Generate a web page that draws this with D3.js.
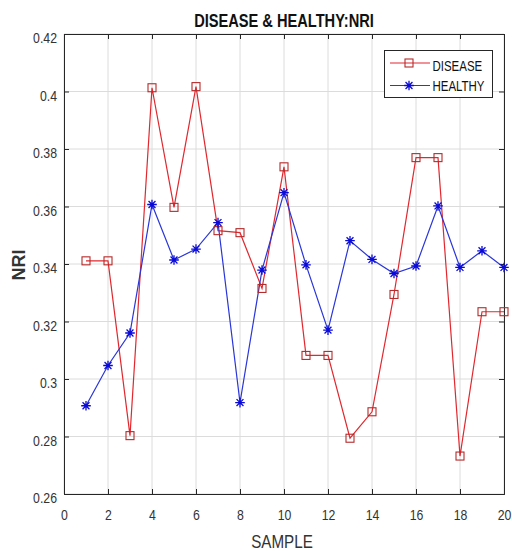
<!DOCTYPE html>
<html>
<head>
<meta charset="utf-8">
<script src="https://cdn.jsdelivr.net/npm/d3@7"></script>
<style>
  body { margin: 0; background: #fff; }
  text { font-family: "Liberation Sans", Arial, sans-serif; }
</style>
</head>
<body>
<div id="chart"></div>
<script>
var samples = d3.range(1, 21);
var disease = [0.3411, 0.3411, 0.2803, 0.4013, 0.3597, 0.4017, 0.3516, 0.3509, 0.3315, 0.3738,
               0.3082, 0.3082, 0.2794, 0.2886, 0.3294, 0.3770, 0.3770, 0.2732, 0.3234, 0.3234];
var healthy = [0.2907, 0.3047, 0.3160, 0.3607, 0.3414, 0.3452, 0.3544, 0.2918, 0.3379, 0.3648,
               0.3397, 0.3170, 0.3481, 0.3416, 0.3367, 0.3393, 0.3602, 0.3388, 0.3446, 0.3388];
var xTicks = d3.range(0, 21, 2);
var yTicks = [0.26, 0.28, 0.3, 0.32, 0.34, 0.36, 0.38, 0.4, 0.42];
var seriesNames = ["DISEASE", "HEALTHY"];

var w = 512, h = 551;
var plotL = 64, plotR = 504, plotT = 34, plotB = 494;
var axisColor = "#262626";
var redLine = "#e0282e", redMark = "#b52a2a";
var blueLine = "#2a36d8", blueMark = "#0a0ad8";
var squeeze = 0.82;  // text in the picture is narrow

var svg = d3.select("#chart")
    .append("svg")
    .attr("width", w)
    .attr("height", h);

var x = d3.scaleLinear().domain([0, 20]).range([plotL, plotR]);
var y = d3.scaleLinear().domain([0.26, 0.42]).range([plotB, plotT]);

// narrow text placed at cx, cy (baseline)
var label = function(g, str, cx, cy, size, sx, anchor) {
    return g.append("text")
        .text(str)
        .attr("transform", "translate(" + cx + "," + cy + ") scale(" + sx + ",1)")
        .attr("text-anchor", anchor || "middle")
        .attr("font-size", size + "px");
};

// grid
svg.append("g")
    .selectAll("line")
    .data(xTicks)
    .enter()
    .append("line")
    .attr("x1", function(d) { return x(d); })
    .attr("x2", function(d) { return x(d); })
    .attr("y1", plotT)
    .attr("y2", plotB)
    .attr("stroke", "#dcdcdc")
    .attr("stroke-width", 1);

svg.append("g")
    .selectAll("line")
    .data(yTicks)
    .enter()
    .append("line")
    .attr("x1", plotL)
    .attr("x2", plotR)
    .attr("y1", function(d) { return y(d); })
    .attr("y2", function(d) { return y(d); })
    .attr("stroke", "#dcdcdc")
    .attr("stroke-width", 1);

// axes (ticks inside, matlab style)
var fmt = function(d) { return String(+d.toFixed(2)); };

var xAxis = svg.append("g")
    .attr("transform", "translate(0," + plotB + ")")
    .call(d3.axisBottom(x).tickValues(xTicks).tickSize(-5).tickFormat(d3.format("d")));
svg.append("g")
    .attr("transform", "translate(0," + plotT + ")")
    .call(d3.axisTop(x).tickValues(xTicks).tickSize(-5).tickFormat(""));
var yAxis = svg.append("g")
    .attr("transform", "translate(" + plotL + ",0)")
    .call(d3.axisLeft(y).tickValues(yTicks).tickSize(-5).tickFormat(fmt));
svg.append("g")
    .attr("transform", "translate(" + plotR + ",0)")
    .call(d3.axisRight(y).tickValues(yTicks).tickSize(-5).tickFormat(""));

svg.selectAll(".domain").attr("stroke", axisColor);
svg.selectAll(".tick line").attr("stroke", axisColor);
svg.selectAll(".tick text")
    .attr("fill", "#333")
    .attr("font-size", "15px")
    .attr("font-family", "'Liberation Sans', Arial, sans-serif")
    .attr("transform", "scale(" + squeeze + ",1)")
    .attr("dy", 0);
xAxis.selectAll(".tick text").attr("y", 26);
yAxis.selectAll(".tick text").attr("x", -7 / squeeze).attr("y", 8.5);

// lines
var line = d3.line()
    .x(function(d, i) { return x(samples[i]); })
    .y(function(d) { return y(d); });

svg.append("path")
    .datum(disease)
    .attr("d", line)
    .attr("fill", "none")
    .attr("stroke", redLine)
    .attr("stroke-width", 1.2);

svg.append("path")
    .datum(healthy)
    .attr("d", line)
    .attr("fill", "none")
    .attr("stroke", blueLine)
    .attr("stroke-width", 1.2);

// markers
var sq = 8;
svg.append("g")
    .selectAll("rect")
    .data(disease)
    .enter()
    .append("rect")
    .attr("x", function(d, i) { return x(samples[i]) - sq / 2; })
    .attr("y", function(d) { return y(d) - sq / 2; })
    .attr("width", sq)
    .attr("height", sq)
    .attr("fill", "none")
    .attr("stroke", redMark)
    .attr("stroke-width", 1.1);

var star = function(g, cx, cy, r) {
    var s = r * 0.72;
    g.append("path")
        .attr("d", "M" + (cx - r) + "," + cy + "H" + (cx + r) +
                   "M" + cx + "," + (cy - r) + "V" + (cy + r) +
                   "M" + (cx - s) + "," + (cy - s) + "L" + (cx + s) + "," + (cy + s) +
                   "M" + (cx - s) + "," + (cy + s) + "L" + (cx + s) + "," + (cy - s))
        .attr("stroke", blueMark)
        .attr("stroke-width", 1.3)
        .attr("fill", "none");
};

var stars = svg.append("g");
healthy.forEach(function(d, i) { star(stars, x(samples[i]), y(d), 4.8); });

// legend
var lg = svg.append("g");
lg.append("rect")
    .attr("x", 384.5)
    .attr("y", 50.5)
    .attr("width", 108)
    .attr("height", 47)
    .attr("fill", "#fff")
    .attr("stroke", axisColor)
    .attr("stroke-width", 1);

lg.append("line").attr("x1", 390).attr("x2", 430).attr("y1", 63).attr("y2", 63)
    .attr("stroke", redLine).attr("stroke-width", 1.2);
lg.append("rect").attr("x", 409 - sq / 2).attr("y", 63 - sq / 2).attr("width", sq).attr("height", sq)
    .attr("fill", "none").attr("stroke", redMark).attr("stroke-width", 1.1);
lg.append("line").attr("x1", 390).attr("x2", 430).attr("y1", 85.5).attr("y2", 85.5)
    .attr("stroke", blueLine).attr("stroke-width", 1.2);
star(lg, 409, 85.5, 4.8);

seriesNames.forEach(function(d, i) {
    label(lg, d, 432.5, 70.5 + i * 20, 15.5, 0.74, "start").attr("fill", "#111");
});

// title and labels
label(svg, "DISEASE & HEALTHY:NRI", 284, 27, 19, 0.77)
    .attr("font-weight", "bold")
    .attr("fill", "#111");

label(svg, "SAMPLE", 282, 548, 19, 0.8)
    .attr("fill", "#333");

svg.append("text")
    .text("NRI")
    .attr("transform", "translate(19,265) rotate(-90)")
    .attr("dy", "0.35em")
    .attr("text-anchor", "middle")
    .attr("font-size", "18px")
    .attr("font-weight", "bold")
    .attr("fill", "#333");
</script>
</body>
</html>
